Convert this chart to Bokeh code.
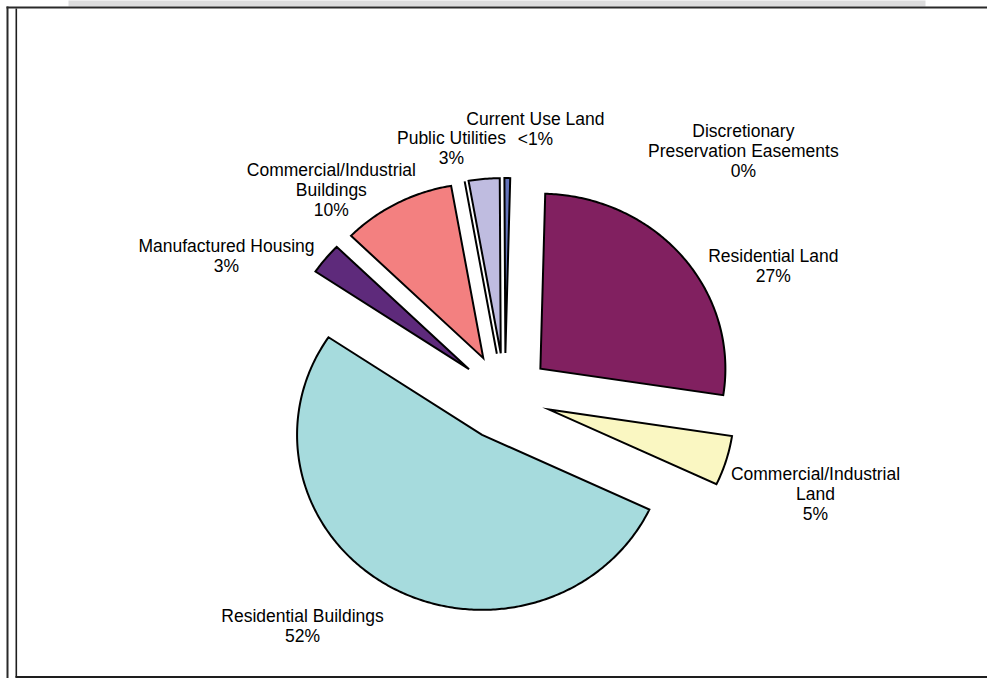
import numpy as np
from bokeh.plotting import figure
from bokeh.models import Range1d, ColumnDataSource
from bokeh.core.properties import value
from bokeh.embed import file_html
from bokeh.resources import INLINE

# ---------------- data ----------------
categories = [
    "Residential Land",
    "Commercial/Industrial Land",
    "Residential Buildings",
    "Manufactured Housing",
    "Commercial/Industrial Buildings",
    "Discretionary Preservation Easements",
    "Public Utilities",
    "Current Use Land",
]
shares = [27.0, 4.6, 52.4, 2.9, 9.9, 0.0, 2.7, 0.5]
pct_labels = ["27%", "5%", "52%", "3%", "10%", "0%", "3%", "<1%"]
label_names = [
    "Residential Land",
    "Commercial/Industrial\nLand",
    "Residential Buildings",
    "Manufactured Housing",
    "Commercial/Industrial\nBuildings",
    "Discretionary\nPreservation Easements",
    "Public Utilities",
    "Current Use Land",
]

# ---------------- styles ----------------
colors = ["#812060", "#faf7c2", "#a6dbdd", "#5e2a7b", "#f38080",
          "#bfbce0", "#bfbce0", "#6474ba"]
START_DEG = 1.5      # angle of first slice (clockwise from 12 o'clock)
EXPLODE = 0.25       # point explosion, fraction of radius
FONT = "Liberation Sans"

# layout (canvas pixels)
W, H = 987, 678
CX, CY = 504.4, 396.3   # where the pie centre sits on the canvas (px)
RX, RY = 185.0, 175.0   # px per data unit (horizontal / vertical)


def px(x):
    return (x - CX) / RX


def py(y):
    return (CY - y) / RY


# label anchor positions (data units, pie centre = 0,0)
LABEL_POS = {
    "Residential Land": (1.451, 0.750),
    "Commercial/Industrial Land": (1.679, -0.555),
    "Residential Buildings": (-1.094, -1.307),
    "Manufactured Housing": (-1.505, 0.807),
    "Commercial/Industrial Buildings": (-0.938, 1.179),
    "Discretionary Preservation Easements": (1.289, 1.402),
    "Public Utilities": (-0.289, 1.422),
    "Current Use Land": (0.165, 1.530),
}

p = figure(
    width=W, height=H, output_backend="svg", toolbar_location=None,
    x_range=Range1d(px(0), px(W)),
    y_range=Range1d(py(H), py(0)),
    min_border=0, min_border_left=0, min_border_right=0,
    min_border_top=0, min_border_bottom=0,
)
p.axis.visible = False
p.xgrid.visible = False
p.ygrid.visible = False
p.outline_line_color = None
p.background_fill_color = "white"
p.border_fill_color = "white"

# ---------------- frame decoration ----------------
p.quad(left=px(68), right=px(925), top=py(-2), bottom=py(6),
       fill_color="#dcdcdd", line_color=None)
p.line([px(6), px(W + 20)], [py(7), py(7)], line_color="#2a2a2a", line_width=2)
p.line([px(7), px(7)], [py(6), py(H + 20)], line_color="#2a2a2a", line_width=2)
p.line([px(15.8), px(15.8)], [py(8), py(677)], line_color="#1e1e1e", line_width=1.6)
p.line([px(15), px(W + 20)], [py(676.5), py(676.5)], line_color="#1e1e1e", line_width=2)

# ---------------- pie slices ----------------
xs, ys = [], []
cum = 0.0
for s in shares:
    a0 = START_DEG + cum * 3.6
    a1 = a0 + s * 3.6
    mid = np.radians((a0 + a1) / 2)
    ox, oy = EXPLODE * np.sin(mid), EXPLODE * np.cos(mid)
    n = max(2, int(abs(a1 - a0) * 1.5) + 2)
    t = np.radians(np.linspace(a0, a1, n))
    xs.append([ox] + list(ox + np.sin(t)))
    ys.append([oy] + list(oy + np.cos(t)))
    cum += s

src = ColumnDataSource(dict(xs=xs, ys=ys, color=colors, name=categories))
p.patches("xs", "ys", source=src, fill_color="color", line_color="black",
          line_width=2, line_join="miter")

# ---------------- labels ----------------
lx = [LABEL_POS[c][0] for c in categories]
ly = [LABEL_POS[c][1] for c in categories]
ltext = [f"{n}\n{v}" for n, v in zip(label_names, pct_labels)]
lsrc = ColumnDataSource(dict(x=lx, y=ly, text=ltext))
p.text("x", "y", text="text", source=lsrc, text_font=value(FONT),
       text_font_size="17.5px", text_align="center", text_baseline="middle",
       text_line_height=1.0, text_color="black")

open("out.html", "w").write(file_html(p, INLINE))
